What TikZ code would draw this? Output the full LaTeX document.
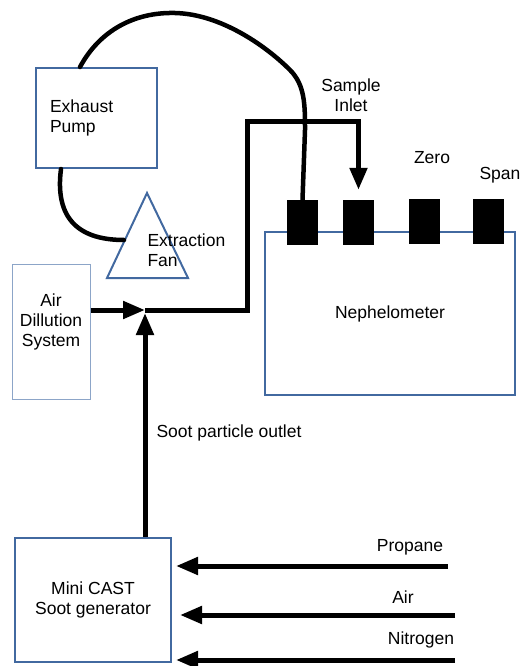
\documentclass[tikz,border=0pt]{standalone}
\usepackage{fontspec}
\setmainfont{Liberation Sans}
\usetikzlibrary{arrows.meta}
\definecolor{boxblue}{RGB}{66,105,160}
\definecolor{paleblue}{RGB}{140,165,200}
\tikzset{
  device/.style={draw=boxblue, line width=2pt, inner sep=0pt},
  port/.style={fill=black, minimum width=31pt, minimum height=45pt, inner sep=0pt},
  flow/.style={line width=5pt},
  pipe/.style={line width=4.5pt, line cap=round},
  >={Triangle[length=22pt,width=17pt]}
}
\begin{document}
\begin{tikzpicture}[x=1pt, y=-1pt, every node/.style={font=\fontsize{17.5}{20}\selectfont}]
  \useasboundingbox (0,0) rectangle (528,666);

  % equipment
  \node (pump) at (96.5,118) [device, minimum width=121pt, minimum height=100pt, text width=93pt, inner xsep=14pt, align=left] {Exhaust\\Pump};
  \node (air) at (51,331.5) [device, draw=paleblue, line width=1pt, minimum width=78pt, minimum height=135pt] {};
  \node (airtext) at (51,322) [align=center] {Air\\Dillution\\System};
  \node (neph) at (390,313.5) [device, minimum width=250pt, minimum height=163pt] {Nephelometer};
  \node (cast) at (93,600) [device, minimum width=156pt, minimum height=124pt, align=center] {Mini CAST\\Soot generator};

  % extraction fan
  \coordinate (fan top) at (147,193);
  \draw[boxblue, line width=2pt, line join=miter] (107,278) -- (fan top) -- (188,278) -- cycle;
  \coordinate (fan inlet) at (124,240);
  \node (fantext) at (144,250.5) [anchor=west, align=left] {Extraction\\Fan};

  % ports on the nephelometer
  \node (port1) at (302.5,222.5) [port] {};
  \node (port2) at (358.5,222.5) [port] {};
  \node (port3) at (424.5,221) [port] {};
  \node (port4) at (488.5,221) [port] {};
  \node (inlet) at (351,95) [align=center] {Sample\\Inlet};
  \node (zero) at (432,158) {Zero};
  \node (span) at (500,175) {Span};

  % exhaust pipes
  \draw[pipe] ([xshift=-35.5pt]pump.south) .. controls (55,215) and (75,240) .. (fan inlet);
  \draw[pipe] ([xshift=-16.5pt]pump.north) .. controls (100,30) and (135,12) .. (175,13)
    .. controls (220,14) and (265,45) .. (290,70)
    .. controls (305,85) and (305,105) .. (305,130) -- (port1.north);

  % sample line
  \coordinate (mix) at (145,310);
  \coordinate (bend) at (247,122);
  \draw[flow, ->] (air.east |- mix) -- (mix);
  \draw[flow, ->, line join=miter, shorten >=10pt] (mix) -| (bend) -| (port2.north);
  \draw[flow, ->, shorten >=3pt] (cast.north -| mix) -- (mix);
  \node (soot) at (153,433) [anchor=west] {Soot particle outlet};

  % gas supplies
  \coordinate (propane in) at (448,566);
  \coordinate (air in) at (455,615);
  \coordinate (nitrogen in) at (455,660);
  \draw[flow, ->, shorten >=4pt] (propane in) -- (propane in -| cast.east);
  \draw[flow, ->, shorten >=8pt] (air in) -- (air in -| cast.east);
  \draw[flow, ->, shorten >=4pt] (nitrogen in) -- (nitrogen in -| cast.east);
  \node (propane) at (410,547) {Propane};
  \node (airlabel) at (403,597) {Air};
  \node (nitrogen) at (421,640) {Nitrogen};
\end{tikzpicture}
\end{document}
